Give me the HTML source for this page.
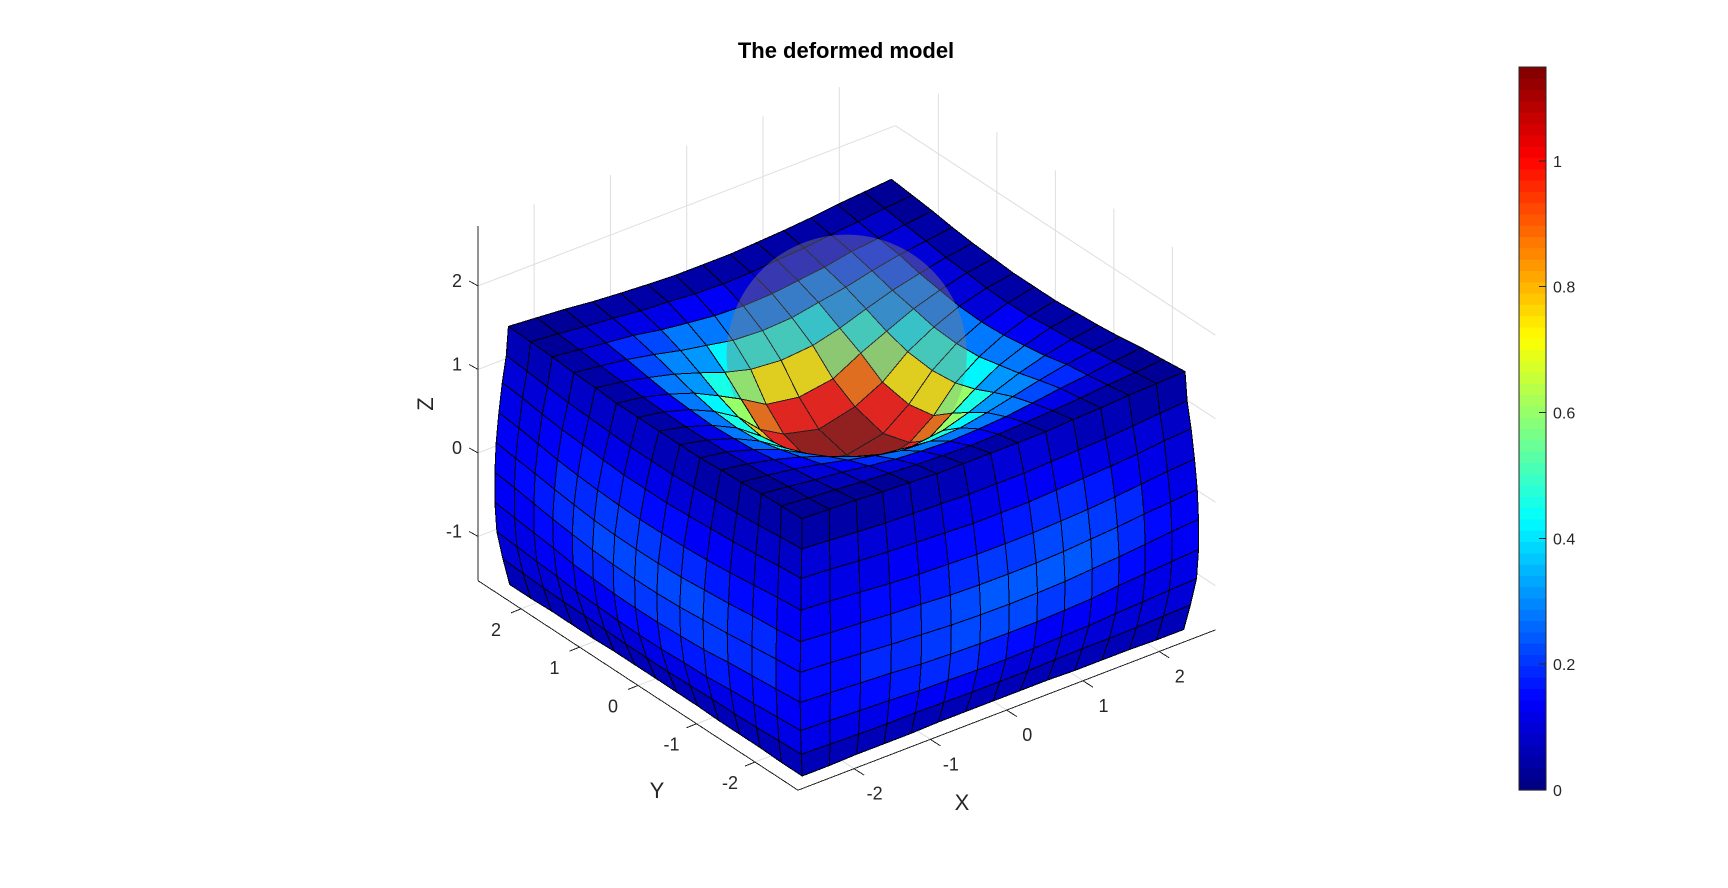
<!DOCTYPE html>
<html><head><meta charset="utf-8"><title>The deformed model</title>
<style>
html,body{margin:0;padding:0;background:#fff}
svg{display:block}
text{font-family:"Liberation Sans",Arial,sans-serif;fill:#262626}
#axes line,#cbar line{shape-rendering:crispEdges}
</style></head>
<body>
<svg id="plot" xmlns="http://www.w3.org/2000/svg" width="1728" height="888" viewBox="0 0 1728 888">
<defs><clipPath id="far-layer-clip"></clipPath></defs>
<rect width="1728" height="888" fill="#fff"/>
<text x="846" y="58" text-anchor="middle" font-size="22" font-weight="bold" fill="#000" style="fill:#000">The deformed model</text>
<g id="grid"></g>
<g id="axes"></g>
<g id="model"></g>
<g id="cbar"></g>
<text x="962" y="810" text-anchor="middle" font-size="22">X</text>
<text x="657" y="798" text-anchor="middle" font-size="22">Y</text>
<text x="0" y="0" text-anchor="middle" font-size="22" transform="translate(433,404) rotate(-90)">Z</text>
</svg>
<script>
// ---- axis data ----
var xTicks = [-2, -1, 0, 1, 2];
var yTicks = [-2, -1, 0, 1, 2];
var zTicks = [-1, 0, 1, 2];
var colorTicks = [0, 0.2, 0.4, 0.6, 0.8, 1];
var axisLimit = 2.735;
var zMin = -1.53;
var zMax = 2.72;
var colorMax = 1.149;
// ---- mesh data (model units) ----
var nodeCoords = [-2.5,-2.143,-1.786,-1.429,-1.071,-0.714,-0.357,0,0.357,0.714,1.071,1.429,1.786,2.143,2.5];
// top surface height: row = |x index from centre|, col = |y index from centre|
var topHeight = [
 [0.27,0.36,0.59,0.89,1.10,1.245,1.35,1.42],
 [0.36,0.47,0.66,0.93,1.12,1.26,1.36,1.42],
 [0.59,0.66,0.856,1.02,1.18,1.29,1.38,1.43],
 [0.89,0.93,1.02,1.137,1.245,1.33,1.40,1.45],
 [1.10,1.12,1.18,1.245,1.32,1.385,1.43,1.47],
 [1.245,1.26,1.29,1.33,1.385,1.42,1.46,1.50],
 [1.35,1.36,1.38,1.40,1.43,1.46,1.49,1.52],
 [1.42,1.42,1.43,1.45,1.47,1.50,1.52,1.54]
];
// top surface outward shift of a node along its own index direction
var topShift = [
 [0,0,0,0,0,0,0,0],
 [0.12,0.11,0.08,0.05,0.03,0.02,0.01,0],
 [0.10,0.09,0.07,0.04,0.02,0.01,0,0],
 [0.05,0.04,0.03,0.02,0.01,0,0,0],
 [0.01,0.01,0.01,0,0,0,0,0],
 [-0.02,-0.02,-0.01,-0.01,0,0,0,0],
 [-0.03,-0.03,-0.02,-0.02,-0.01,-0.01,0,0],
 [-0.04,-0.04,-0.03,-0.03,-0.02,-0.01,0,0.01]
];
// side-wall bulge: row = layer below the top, col = |index from centre|
var sideBulge = [
 [0.06,0.06,0.055,0.05,0.045,0.04,0.03,0.025],
 [0.14,0.14,0.13,0.12,0.11,0.09,0.07,0.055],
 [0.21,0.205,0.20,0.18,0.16,0.13,0.10,0.08],
 [0.26,0.255,0.24,0.22,0.19,0.16,0.13,0.10],
 [0.28,0.275,0.26,0.24,0.21,0.17,0.14,0.11],
 [0.27,0.265,0.25,0.23,0.20,0.17,0.14,0.11],
 [0.22,0.215,0.20,0.19,0.16,0.14,0.115,0.095],
 [0.12,0.12,0.11,0.10,0.09,0.08,0.065,0.05],
 [0,0,0,0,0,0,0,0]
];
// side-wall height of each node
var sideHeight = [
 [1.10,1.10,1.11,1.12,1.13,1.15,1.17,1.19],
 [0.79,0.79,0.80,0.81,0.82,0.83,0.85,0.86],
 [0.45,0.45,0.46,0.46,0.47,0.48,0.49,0.50],
 [0.11,0.11,0.11,0.12,0.12,0.13,0.13,0.14],
 [-0.24,-0.24,-0.24,-0.23,-0.23,-0.23,-0.22,-0.22],
 [-0.59,-0.59,-0.59,-0.59,-0.58,-0.58,-0.58,-0.58],
 [-0.93,-0.93,-0.93,-0.93,-0.93,-0.93,-0.93,-0.93],
 [-1.24,-1.24,-1.24,-1.24,-1.25,-1.25,-1.25,-1.25],
 [-1.53,-1.53,-1.53,-1.54,-1.54,-1.54,-1.55,-1.55]
];
// cell values, read from the colours in the picture
// back quadrant (+x,+y)
var topValuesBack = [
 [1.12,1.00,0.74,0.45,0.28,0.10,0.05],
 [1.00,0.88,0.60,0.43,0.28,0.10,0.05],
 [0.74,0.60,0.45,0.32,0.27,0.10,0.05],
 [0.45,0.43,0.32,0.29,0.22,0.10,0.05],
 [0.28,0.28,0.27,0.22,0.19,0.09,0.045],
 [0.10,0.10,0.10,0.10,0.09,0.075,0.035],
 [0.05,0.05,0.05,0.05,0.045,0.035,0.03]
];
// side quadrants (+x,-y) and (-x,+y)
var topValuesSide = [
 [1.12,1.00,0.74,0.45,0.28,0.13,0.05],
 [1.00,0.88,0.60,0.43,0.28,0.13,0.05],
 [0.74,0.60,0.45,0.32,0.27,0.12,0.05],
 [0.45,0.43,0.32,0.29,0.22,0.12,0.05],
 [0.28,0.28,0.27,0.22,0.19,0.10,0.045],
 [0.13,0.13,0.12,0.12,0.10,0.075,0.035],
 [0.05,0.05,0.05,0.05,0.045,0.035,0.03]
];
// front quadrant (-x,-y)
var topValuesFront = [
 [1.12,1.00,0.74,0.45,0.28,0.12,0.05],
 [1.00,0.88,0.60,0.43,0.26,0.12,0.05],
 [0.74,0.60,0.33,0.26,0.18,0.10,0.04],
 [0.45,0.43,0.26,0.20,0.14,0.08,0.035],
 [0.28,0.26,0.18,0.14,0.10,0.06,0.03],
 [0.12,0.12,0.10,0.08,0.06,0.05,0.025],
 [0.05,0.05,0.04,0.035,0.03,0.025,0.02]
];
var rightFaceValues = [
 [0.05,0.05,0.05,0.06,0.07,0.07,0.08,0.09,0.09,0.08,0.07,0.06,0.05,0.04],
 [0.09,0.09,0.09,0.10,0.10,0.11,0.12,0.13,0.13,0.13,0.12,0.10,0.09,0.08],
 [0.12,0.12,0.12,0.13,0.13,0.15,0.16,0.17,0.18,0.18,0.17,0.14,0.12,0.10],
 [0.14,0.14,0.15,0.16,0.17,0.18,0.20,0.21,0.22,0.22,0.21,0.18,0.14,0.12],
 [0.15,0.15,0.17,0.18,0.20,0.22,0.24,0.245,0.245,0.24,0.23,0.19,0.16,0.13],
 [0.15,0.16,0.18,0.19,0.21,0.23,0.23,0.22,0.21,0.20,0.18,0.15,0.14,0.13],
 [0.14,0.15,0.16,0.17,0.18,0.18,0.17,0.15,0.14,0.13,0.13,0.12,0.12,0.11],
 [0.12,0.12,0.12,0.13,0.13,0.13,0.11,0.10,0.10,0.10,0.09,0.09,0.09,0.09],
 [0.07,0.07,0.07,0.07,0.07,0.07,0.07,0.07,0.07,0.06,0.06,0.06,0.06,0.06]
];
var leftFaceValues = [
 [0.05,0.05,0.04,0.04,0.05,0.06,0.07,0.08,0.08,0.08,0.08,0.08,0.07,0.06],
 [0.08,0.08,0.08,0.08,0.09,0.10,0.11,0.12,0.12,0.12,0.12,0.11,0.10,0.09],
 [0.12,0.12,0.12,0.13,0.14,0.15,0.16,0.17,0.17,0.17,0.16,0.14,0.12,0.12],
 [0.14,0.15,0.16,0.17,0.18,0.19,0.20,0.20,0.20,0.19,0.18,0.16,0.14,0.13],
 [0.16,0.18,0.19,0.20,0.22,0.22,0.22,0.22,0.22,0.20,0.18,0.17,0.15,0.14],
 [0.16,0.18,0.19,0.20,0.20,0.21,0.21,0.21,0.19,0.18,0.16,0.15,0.14,0.13],
 [0.14,0.15,0.16,0.17,0.17,0.17,0.16,0.15,0.14,0.14,0.13,0.13,0.12,0.12],
 [0.11,0.12,0.12,0.12,0.12,0.12,0.11,0.10,0.10,0.10,0.09,0.09,0.09,0.10],
 [0.06,0.06,0.06,0.06,0.06,0.06,0.06,0.06,0.06,0.06,0.06,0.06,0.06,0.06]
];
var sphereCenter = [0, 0, 1.47];
var sphereRadius = 1.25;

var NS = 'http://www.w3.org/2000/svg';
function px(x, y) { return 846.7 + 76.3 * x - 58.5 * y; }
function py(x, y, z) { return 605.3 - 29.3 * x - 38.3 * y - 83.5 * (z - zMin); }
function mk(tag, attrs, parent) {
  var e = document.createElementNS(NS, tag);
  for (var k in attrs) e.setAttribute(k, attrs[k]);
  parent.appendChild(e);
  return e;
}
function jet(v) {
  var t = Math.max(0, Math.min(0.9999, v / colorMax));
  var c = (Math.floor(t * 64) + 0.5) / 64;
  function ch(o) { return Math.round(255 * Math.max(0, Math.min(1, 1.5 - Math.abs(4 * c - o)))); }
  return 'rgb(' + ch(3) + ',' + ch(2) + ',' + ch(1) + ')';
}
function line(parent, x1, y1, x2, y2, color, name) {
  var l = mk('line', {x1: x1, y1: y1, x2: x2, y2: y2, stroke: color, 'stroke-width': 1}, parent);
  
  
}
function label(parent, x, y, s, size, anchor, name) {
  var t = mk('text', {x: x, y: y, 'font-size': size, 'text-anchor': anchor}, parent);
  t.textContent = s;
  
  
}

// ---- grid ----
var grid = document.getElementById('grid');
var gc = '#dedede', L = axisLimit;
xTicks.forEach(function (v) {
  line(grid, px(v, -L), py(v, -L, zMin), px(v, L), py(v, L, zMin), gc, 'floor-gridline-x');
  line(grid, px(v, L), py(v, L, zMin), px(v, L), py(v, L, zMax), gc, 'wall-gridline-x');
});
yTicks.forEach(function (v) {
  line(grid, px(-L, v), py(-L, v, zMin), px(L, v), py(L, v, zMin), gc, 'floor-gridline-y');
  line(grid, px(L, v), py(L, v, zMin), px(L, v), py(L, v, zMax), gc, 'wall-gridline-y');
});
zTicks.forEach(function (v) {
  line(grid, px(-L, L), py(-L, L, v), px(L, L), py(L, L, v), gc, 'wall-gridline-z');
  line(grid, px(L, L), py(L, L, v), px(L, -L), py(L, -L, v), gc, 'wall-gridline-z');
});

// ---- axes ----
var ax = document.getElementById('axes');
var ac = '#262626';
line(ax, px(-L, -L), py(-L, -L, zMin), px(L, -L), py(L, -L, zMin), ac, 'x-axis-line');
line(ax, px(-L, -L), py(-L, -L, zMin), px(-L, L), py(-L, L, zMin), ac, 'y-axis-line');
line(ax, px(-L, L), py(-L, L, zMin), px(-L, L), py(-L, L, zMax), ac, 'z-axis-line');
xTicks.forEach(function (v) {
  var a = px(v, -L), b = py(v, -L, zMin);
  line(ax, a, b, a + 10, b + 6.5, ac, 'x-tick');
  label(ax, a + 20.5, b + 31, String(v), 18, 'middle', 'x-tick-label');
});
yTicks.forEach(function (v) {
  var a = px(-L, v), b = py(-L, v, zMin);
  line(ax, a, b, a - 10, b + 4, ac, 'y-tick');
  label(ax, a - 25, b + 27, String(v), 18, 'middle', 'y-tick-label');
});
zTicks.forEach(function (v) {
  var a = px(-L, L), b = py(-L, L, v);
  line(ax, a, b, a - 9, b - 5, ac, 'z-tick');
  label(ax, a - 16, b + 1, String(v), 18, 'end', 'z-tick-label');
});

// ---- mesh ----
function sgn(i) { return i < 7 ? -1 : 1; }
function topNode(i, j) {
  var p = Math.abs(i - 7), q = Math.abs(j - 7);
  return [nodeCoords[i] + sgn(i) * topShift[p][q], nodeCoords[j] + sgn(j) * topShift[q][p], topHeight[p][q]];
}
function cornerScale(k) { return 1 + sideBulge[k - 1][7] / 2.5; }
function rightFaceNode(i, k) {
  if (k === 0) return topNode(i, 0);
  var q = Math.abs(i - 7);
  return [nodeCoords[i] * cornerScale(k), -2.5 - sideBulge[k - 1][q], sideHeight[k - 1][q]];
}
function leftFaceNode(j, k) {
  if (k === 0) return topNode(0, j);
  var q = Math.abs(j - 7);
  return [-2.5 - sideBulge[k - 1][q], nodeCoords[j] * cornerScale(k), sideHeight[k - 1][q]];
}
function cellPoints(nodes) {
  return nodes.map(function (n) { return px(n[0], n[1]).toFixed(1) + ',' + py(n[0], n[1], n[2]).toFixed(1); }).join(' ');
}
function cell(parent, nodes, value, name) {
  var c = mk('polygon', {points: cellPoints(nodes), fill: jet(value), stroke: '#000', 'stroke-width': 1, 'stroke-linejoin': 'round', 'shape-rendering': 'crispEdges'}, parent);
  
  
}
var model = document.getElementById('model');
var farClip = document.getElementById('far-layer-clip');
var inner = [], nearCells = [];
for (var i = 0; i < 14; i++) {
  for (var j = 0; j < 14; j++) {
    var a = i < 7 ? 6 - i : i - 7, b = j < 7 ? 6 - j : j - 7;
    var cx = (nodeCoords[i] + nodeCoords[i + 1]) / 2, cy = (nodeCoords[j] + nodeCoords[j + 1]) / 2;
    var depth = 29.3 * cx + 38.3 * cy;
    var rho = Math.sqrt(cx * cx + cy * cy);
    var table = (i >= 7 && j >= 7) ? topValuesBack : (i < 7 && j < 7) ? topValuesFront : topValuesSide;
    var item = {depth: depth, value: table[a][b], far: rho >= 1.0 && depth >= 20, nodes: [topNode(i, j), topNode(i + 1, j), topNode(i + 1, j + 1), topNode(i, j + 1)]};
    if (depth < -5 && rho > 0.95) nearCells.push(item); else inner.push(item);
  }
}
function byDepth(p, q) { return q.depth - p.depth; }
inner.sort(byDepth);
nearCells.sort(byDepth);
inner.forEach(function (c) {
  cell(model, c.nodes, c.value, 'top-surface-cell');
  if (c.far) {
    var cp = mk('polygon', {points: cellPoints(c.nodes)}, farClip);
    
    
  }
});
var sCx = px(sphereCenter[0], sphereCenter[1]);
var sCy = py(sphereCenter[0], sphereCenter[1], sphereCenter[2]);
var sR = sphereRadius * 96.1;
var sphere = mk('circle', {cx: sCx, cy: sCy, r: sR, fill: 'rgb(128,128,128)', 'fill-opacity': 0.25}, model);


var sphereFar = mk('circle', {cx: sCx, cy: sCy, r: sR, fill: 'rgb(128,128,128)', 'fill-opacity': 0.25, 'clip-path': 'url(#far-layer-clip)'}, model);


nearCells.forEach(function (c) { cell(model, c.nodes, c.value, 'top-surface-cell'); });
for (var k = 0; k < 9; k++) {
  for (var n = 0; n < 14; n++) {
    cell(model, [rightFaceNode(n, k), rightFaceNode(n + 1, k), rightFaceNode(n + 1, k + 1), rightFaceNode(n, k + 1)], rightFaceValues[k][n], 'front-right-face-cell');
    cell(model, [leftFaceNode(n, k), leftFaceNode(n + 1, k), leftFaceNode(n + 1, k + 1), leftFaceNode(n, k + 1)], leftFaceValues[k][n], 'front-left-face-cell');
  }
}

// ---- colorbar ----
var cb = document.getElementById('cbar');
var barL = 1519, barR = 1546, barB = 790, barT = 67;
function cbY(v) { return barB - (barB - barT) * v / colorMax; }
for (var s = 0; s < 64; s++) {
  var v0 = colorMax * s / 64, v1 = colorMax * (s + 1) / 64;
  var r = mk('rect', {x: barL, y: cbY(v1), width: barR - barL, height: cbY(v0) - cbY(v1) + 0.6, fill: jet((v0 + v1) / 2)}, cb);
  
  
}
var frame = mk('rect', {x: barL, y: barT, width: barR - barL, height: barB - barT, fill: 'none', stroke: '#262626', 'stroke-width': 1}, cb);


colorTicks.forEach(function (v) {
  line(cb, barR - 7, cbY(v), barR, cbY(v), '#262626', 'colorbar-tick');
  label(cb, 1553, cbY(v) + 6, String(v), 16, 'start', 'colorbar-tick-label');
});
</script>
</body></html>
